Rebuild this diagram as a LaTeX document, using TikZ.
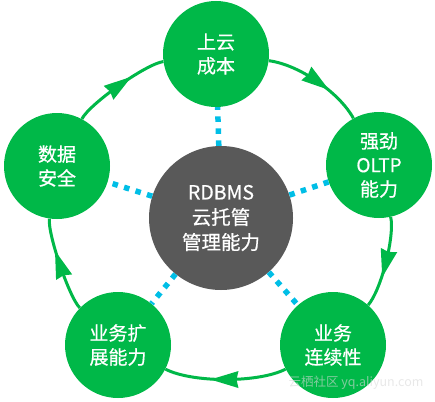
\documentclass[tikz,border=0pt]{standalone}
\usepackage{fontspec}
\setmainfont{Noto Sans CJK SC}[FakeBold=0.6]
\newfontfamily\wmfont{Noto Sans CJK SC}
\definecolor{ringgreen}{RGB}{0,184,72}
\definecolor{darkcore}{RGB}{89,89,89}
\definecolor{dotblue}{RGB}{0,190,230}
\tikzset{
  pillar/.style={circle,fill=ringgreen,minimum size=106pt,inner sep=0pt,text=white,
    align=center,font=\fontsize{19}{24}\selectfont},
  core/.style={circle,fill=darkcore,minimum size=144pt,inner sep=0pt,text=white,
    align=center,font=\fontsize{19.5}{25}\selectfont},
  ring/.style={draw=ringgreen,line width=3pt},
  headtip/.style={fill=ringgreen},
  dotline/.style={draw=dotblue,line width=5.5pt,dash pattern=on 5.5pt off 6.5pt},
  wmark/.style={text=gray!30,opacity=0.6,font=\wmfont\fontsize{12.5}{14}\selectfont}
}
\newcommand\ringhead[2]{\fill[headtip,shift={(#1)},rotate=#2] (15,0) -- (-13,8.5) -- (-11,0) -- (-13,-8.5) -- cycle;}
\begin{document}
\begin{tikzpicture}[x=1pt,y=-1pt]
\useasboundingbox (0,0) rectangle (435,401);
\node[pillar] (top) at (216,54) {上云\\成本};
\node[pillar] (right) at (379,165) {强劲\\OLTP\\能力};
\node[pillar] (br) at (333,345) {业务\\连续性};
\node[pillar] (bl) at (118,345) {业务扩\\展能力};
\node[pillar] (left) at (57,166) {数据\\安全};
\node[core] (core) at (221,218) {RDBMS\\云托管\\管理能力};
\draw[ring] (top) to[bend left=27,looseness=0.75] coordinate[pos=0.5] (h1) (right);
\draw[ring] (right) to[bend left=27,looseness=0.55] coordinate[pos=0.5] (h2) (br);
\draw[ring] (br) to[bend left=27,looseness=0.65] coordinate[pos=0.5] (h3) (bl);
\draw[ring] (bl) to[bend left=27,looseness=0.4] coordinate[pos=0.5] (h4) (left);
\draw[ring] (left) to[bend left=27,looseness=0.45] coordinate[pos=0.5] (h5) (top);
\ringhead{h1}{-36}
\ringhead{h2}{-104}
\ringhead{h3}{180}
\ringhead{h4}{109}
\ringhead{h5}{35}
\draw[dotline] (core) -- (top);
\draw[dotline] (core) -- (right);
\draw[dotline] (core) -- (br);
\draw[dotline] (core) -- (bl);
\draw[dotline] (core) -- (left);
\node[wmark] (wm) at (356,383) {云栖社区 yq.aliyun.com};
\end{tikzpicture}
\end{document}
